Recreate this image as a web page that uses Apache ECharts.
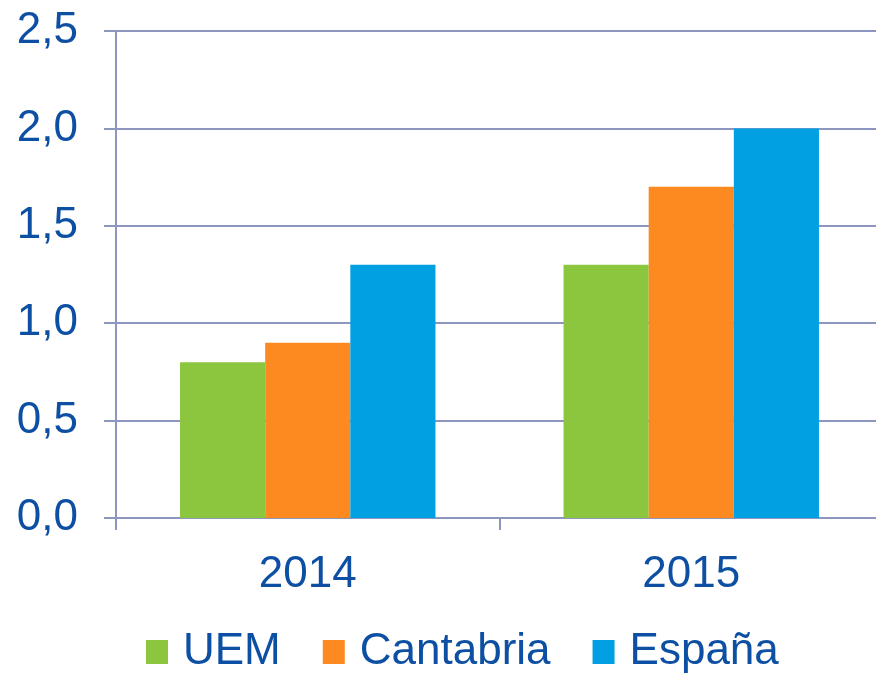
<!DOCTYPE html>
<html>
<head>
<meta charset="utf-8">
<script src="https://cdn.jsdelivr.net/npm/echarts@6/dist/echarts.min.js"></script>
<style>
  html, body { margin: 0; padding: 0; background: #fff; overflow: hidden; }
  /* a bit wider than the window: the plot runs past the right edge, as in the source */
  #chart { width: 883px; height: 675px; }
</style>
</head>
<body>
<div id="chart"></div>
<script>
const years = ['2014', '2015']
const uem = [0.8, 1.3]
const cantabria = [0.9, 1.7]
const espana = [1.3, 2.0]

const textColor = '#0d4fa2'
const lineColor = '#8c96bf'
const font = 'Liberation Sans, Arial, sans-serif'

const chart = echarts.init(document.getElementById('chart'))

const option = {
  animation: false,
  textStyle: { fontFamily: font },
  grid: { left: 116, right: 0, top: 31, bottom: 157 },
  legend: {
    bottom: -4,
    left: 141,
    itemWidth: 22,
    itemHeight: 24,
    itemGap: 42,
    icon: 'rect',
    textStyle: { color: textColor, fontSize: 44, fontFamily: font, padding: [0, 0, 0, 10] },
    data: ['UEM', 'Cantabria', 'España'],
  },
  xAxis: {
    type: 'category',
    data: years,
    axisLine: { lineStyle: { color: lineColor, width: 2 } },
    axisTick: { show: true, length: 12, lineStyle: { color: lineColor, width: 2 } },
    axisLabel: { color: textColor, fontSize: 44, margin: 35, fontFamily: font },
  },
  yAxis: {
    type: 'value',
    min: 0,
    max: 2.5,
    interval: 0.5,
    axisLine: { show: true, lineStyle: { color: lineColor, width: 2 } },
    axisTick: { show: true, length: 12, lineStyle: { color: lineColor, width: 2 } },
    axisLabel: {
      color: textColor,
      fontSize: 44,
      margin: 38,
      fontFamily: font,
      formatter: v => v.toFixed(1).replace('.', ','),
    },
    splitLine: { lineStyle: { color: lineColor, width: 2 } },
  },
  series: [
    { name: 'UEM', type: 'bar', data: uem, barGap: '0%', barCategoryGap: '33.4%', itemStyle: { color: '#8cc63e' } },
    { name: 'Cantabria', type: 'bar', data: cantabria, itemStyle: { color: '#fd8a21' } },
    { name: 'España', type: 'bar', data: espana, itemStyle: { color: '#01a0e2' } },
  ],
}
chart.setOption(option)
</script>
</body>
</html>
